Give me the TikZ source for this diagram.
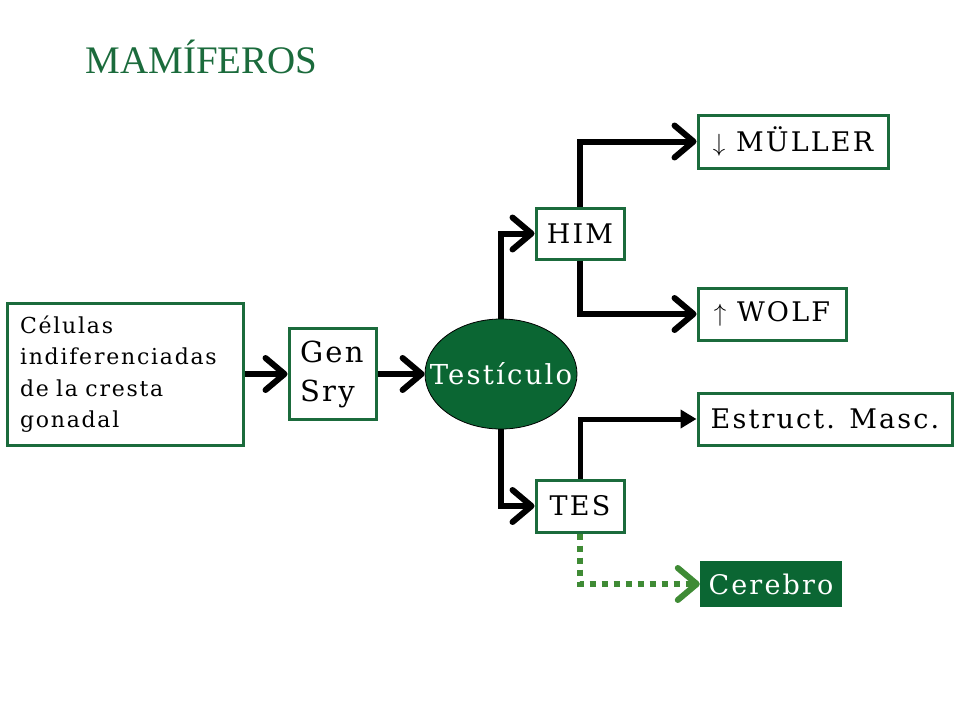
\documentclass[tikz,border=0pt]{standalone}
\usepackage{fontspec}
\setmainfont{DejaVu Serif}[LetterSpace=8]
\newfontfamily\titlefont{Liberation Serif}
\usetikzlibrary{arrows.meta, shapes.geometric}
\definecolor{verde}{HTML}{1B6B3C}
\definecolor{verdeosc}{HTML}{0B6633}
\definecolor{verdeclaro}{HTML}{3F8B35}

\begin{document}
\begin{tikzpicture}[x=1pt, y=-1pt,
    caja/.style={draw=verde, line width=3pt, fill=white, inner sep=0pt, font=\fontsize{27}{32}\selectfont},
    flecha/.style={line width=6pt, -{Straight Barb[length=19pt, width=32pt, round]}},
    >=Stealth]
        \useasboundingbox (0, 0) rectangle (960, 720);
        \node[anchor=base west, text=verde, font=\titlefont\fontsize{39}{44}\selectfont] (titulo) at (82, 73) {MAMÍFEROS};
        % cajas
        \node[caja, minimum width=236pt, minimum height=142pt, text width=210pt, align=left, font=\fontsize{22}{31.5}\selectfont] (celulas) at (125, 374) {Células\\ indiferenciadas\\ de la cresta\\ gonadal};
        \node[caja, minimum width=87pt, minimum height=91pt, text width=65pt, align=left, font=\fontsize{29}{39}\selectfont] (gen) at (332.5, 374) {Gen\\ Sry};
        \node[ellipse, draw=black, line width=0.8pt, fill=verdeosc, minimum width=152pt, minimum height=110pt, inner sep=0pt] (testiculo) at (501, 374) {};
        \node[text=white, inner sep=0pt, font=\fontsize{27.5}{32}\selectfont] (rotulo) at (testiculo) {Testículo};
        \node[caja, minimum width=88pt, minimum height=51pt] (him) at (580, 233.5) {HIM};
        \node[caja, minimum width=88pt, minimum height=52pt] (tes) at (580, 506) {TES};
        \node[caja, minimum width=190pt, minimum height=53pt] (muller) at (793, 141.5) {$\downarrow$ MÜLLER};
        \node[caja, minimum width=148pt, minimum height=52pt] (wolf) at (772, 314) {$\uparrow$ WOLF};
        \node[caja, minimum width=254pt, minimum height=52pt] (estruct) at (825, 419) {Estruct. Masc.};
        \node[fill=verdeosc, text=white, minimum width=142pt, minimum height=46pt, inner sep=0pt, font=\fontsize{27}{32}\selectfont] (cerebro) at (771, 584) {Cerebro};
        % flechas
        \draw[flecha] (celulas.east) -- (gen.west);
        \draw[flecha] (gen.east) -- (testiculo.west);
        \draw[flecha] (testiculo.north) |- (him.west);
        \draw[flecha] (testiculo.south) |- (tes.west);
        \draw[flecha] (him.north) |- (muller.west);
        \draw[flecha] (him.south) |- (wolf.west);
        \draw[line width=5pt, -{Triangle[length=16pt, width=18pt]}] (tes.north) |- (estruct.west);
        \draw[verdeclaro, line width=6pt, dash pattern=on 6pt off 6pt, -{Straight Barb[length=19pt, width=32pt, round]}] (tes.south) |- (cerebro.west);
    \end{tikzpicture}
\end{document}
